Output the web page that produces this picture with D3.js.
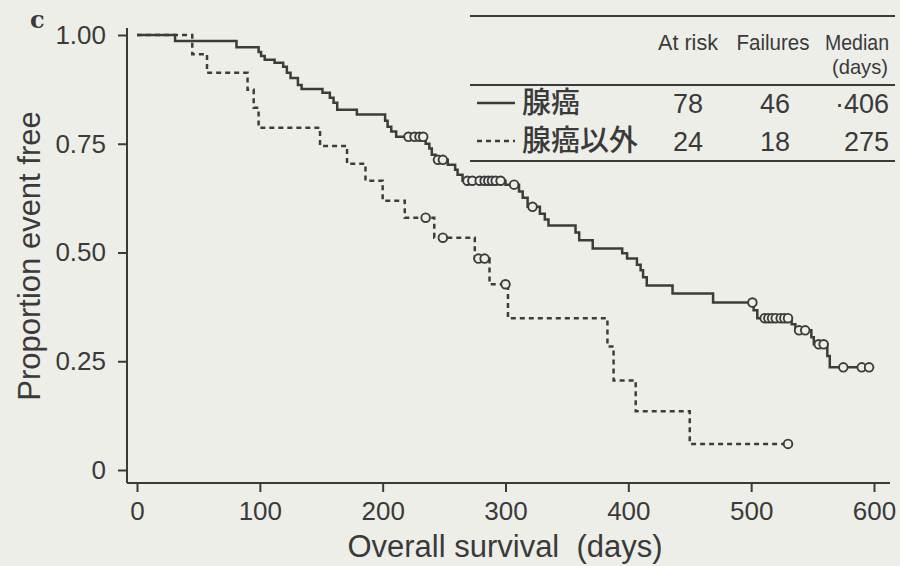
<!DOCTYPE html>
<html>
<head>
<meta charset="utf-8">
<script src="https://cdn.jsdelivr.net/npm/d3@7"></script>
<style>
  body { margin: 0; background: #eeeee9; }
  svg text { font-family: "Liberation Sans", Arial, sans-serif; fill: #3a3a3a; }
</style>
</head>
<body>
<svg id="chart"></svg>
<script>
// ticks
var xTicks = [0, 100, 200, 300, 400, 500, 600];
var yTicks = [0, 0.25, 0.5, 0.75, 1];
var yTickLabels = ["0", "0.25", "0.50", "0.75", "1.00"];

// 腺癌 : [day, proportion event free] after each drop
var adenoSteps = [
  [0, 1], [31, 0.986], [81, 0.972], [99, 0.961], [101, 0.952], [104, 0.943], [112, 0.936],
  [119, 0.927], [122, 0.913], [125, 0.901], [131, 0.885], [134, 0.876], [151, 0.867],
  [157, 0.856], [160, 0.844], [163, 0.828], [179, 0.817], [202, 0.803], [204, 0.789],
  [207, 0.778], [211, 0.766], [235, 0.750], [238, 0.739], [240, 0.725], [243, 0.713],
  [253, 0.702], [259, 0.690], [261, 0.679], [265, 0.665], [300, 0.656], [311, 0.640],
  [314, 0.626], [318, 0.605], [328, 0.589], [332, 0.576], [335, 0.562], [357, 0.546],
  [360, 0.528], [371, 0.509], [395, 0.498], [399, 0.486], [407, 0.472], [410, 0.459],
  [412, 0.443], [415, 0.424], [436, 0.406], [469, 0.385], [502, 0.367], [505, 0.349],
  [533, 0.335], [536, 0.321], [549, 0.305], [551, 0.289], [562, 0.262], [564, 0.236]
];
var adenoCensored = [221, 226, 230, 233, 245, 249, 269, 273, 279, 283, 286, 289, 292, 296,
  307, 322, 501, 511, 514, 517, 520, 524, 527, 530, 539, 544, 555, 559, 575, 590, 596];
var adenoLast = 599;

// 腺癌以外
var otherSteps = [
  [0, 1], [45, 0.956], [57, 0.913], [90, 0.874], [95, 0.833], [99, 0.787], [149, 0.745],
  [171, 0.704], [186, 0.665], [200, 0.619], [218, 0.580], [242, 0.534], [275, 0.486],
  [287, 0.427], [302, 0.349], [383, 0.284], [388, 0.206], [406, 0.135], [450, 0.06]
];
var otherCensored = [235, 249, 278, 283, 300, 530];
var otherLast = 530;

// table
var tableHeaders = ["At risk", "Failures", "Median"];
var groupNames = ["腺癌", "腺癌以外"];
var atRisk = [78, 24];
var failures = [46, 18];
var medians = ["·406", "275"];

var width = 900, height = 566;
var bg = "#eeeee9", ink = "#3a3a3a";

var svg = d3.select("#chart")
            .attr("width", width)
            .attr("height", height)
            .style("background", bg);

var xScale = d3.scaleLinear().domain([0, 600]).range([137, 874]);
var yScale = d3.scaleLinear().domain([0, 1]).range([470, 35]);

// axes
var xAxis = svg.append("g")
               .attr("transform", "translate(0,483)")
               .call(d3.axisBottom(xScale).tickValues(xTicks).tickSize(9).tickSizeOuter(0).tickPadding(10));
xAxis.select(".domain").attr("d", "M127,0H890");

var yAxis = svg.append("g")
               .attr("transform", "translate(127,0)")
               .call(d3.axisLeft(yScale).tickValues(yTicks)
                       .tickFormat(function (d, i) { return yTickLabels[i]; })
                       .tickSize(9).tickSizeOuter(0).tickPadding(12));
yAxis.select(".domain").attr("d", "M0,28V483");

svg.selectAll(".domain, .tick line").attr("stroke", ink).attr("stroke-width", 2);
svg.selectAll(".tick text").style("font-size", "26px").attr("fill", ink);

// axis titles
svg.append("text")
   .attr("x", 505).attr("y", 557)
   .attr("text-anchor", "middle")
   .style("font-size", "31px")
   .style("white-space", "pre")
   .text("Overall survival  (days)");

svg.append("text")
   .attr("transform", "translate(40,256) rotate(-90)")
   .attr("text-anchor", "middle")
   .style("font-size", "31px")
   .text("Proportion event free");

svg.append("text")
   .attr("x", 30).attr("y", 28)
   .style("font-family", "'DejaVu Serif', serif")
   .style("font-weight", "bold")
   .style("font-size", "24px")
   .text("c");

// curves
var line = d3.line()
             .x(function (d) { return xScale(d[0]); })
             .y(function (d) { return yScale(d[1]); })
             .curve(d3.curveStepAfter);

function survivalAt(steps, t) {
  var s = 1;
  steps.forEach(function (d) { if (d[0] <= t) s = d[1]; });
  return s;
}

function drawCurve(steps, censored, last, dash) {
  var pts = steps.concat([[last, steps[steps.length - 1][1]]]);
  svg.append("path")
     .attr("d", line(pts))
     .attr("fill", "none")
     .attr("stroke", "#3c3c3c")
     .attr("stroke-width", 2.5)
     .attr("stroke-dasharray", dash);

  svg.selectAll(null)
     .data(censored)
     .enter()
     .append("circle")
     .attr("cx", function (d) { return xScale(d); })
     .attr("cy", function (d) { return yScale(survivalAt(steps, d)); })
     .attr("r", 4.3)
     .attr("fill", bg)
     .attr("stroke", "#3c3c3c")
     .attr("stroke-width", 1.9);
}

drawCurve(adenoSteps, adenoCensored, adenoLast, null);
drawCurve(otherSteps, otherCensored, otherLast, "5,4");

// table
var table = svg.append("g");
[16, 85, 161].forEach(function (y) {
  table.append("line")
       .attr("x1", 470).attr("x2", 895)
       .attr("y1", y).attr("y2", y)
       .attr("stroke", ink).attr("stroke-width", 2);
});

var colX = [688, 773, 857];
var colW = [60, 73, 64];
tableHeaders.forEach(function (h, i) {
  table.append("text")
       .attr("x", colX[i]).attr("y", 50)
       .attr("text-anchor", "middle")
       .attr("textLength", colW[i])
       .attr("lengthAdjust", "spacingAndGlyphs")
       .style("font-size", "22px")
       .text(h);
});
table.append("text")
     .attr("x", 860).attr("y", 74)
     .attr("text-anchor", "middle")
     .attr("textLength", 56)
     .attr("lengthAdjust", "spacingAndGlyphs")
     .style("font-size", "21px")
     .text("(days)");

var rowY = [113, 151];
var legendDash = [null, "5,4"];
groupNames.forEach(function (g, i) {
  table.append("line")
       .attr("x1", 477).attr("x2", 515)
       .attr("y1", rowY[i] - 10).attr("y2", rowY[i] - 10)
       .attr("stroke", ink).attr("stroke-width", 2.5)
       .attr("stroke-dasharray", legendDash[i]);
  table.append("text")
       .attr("x", 522).attr("y", rowY[i])
       .style("font-family", "'Noto Sans CJK JP', sans-serif")
       .style("font-size", "29px")
       .style("font-weight", "500")
       .text(g);
  table.append("text")
       .attr("x", 703).attr("y", rowY[i])
       .attr("text-anchor", "end")
       .style("font-size", "27px")
       .text(atRisk[i]);
  table.append("text")
       .attr("x", 790).attr("y", rowY[i])
       .attr("text-anchor", "end")
       .style("font-size", "27px")
       .text(failures[i]);
  table.append("text")
       .attr("x", 889).attr("y", rowY[i])
       .attr("text-anchor", "end")
       .style("font-size", "27px")
       .text(medians[i]);
});
</script>
</body>
</html>
